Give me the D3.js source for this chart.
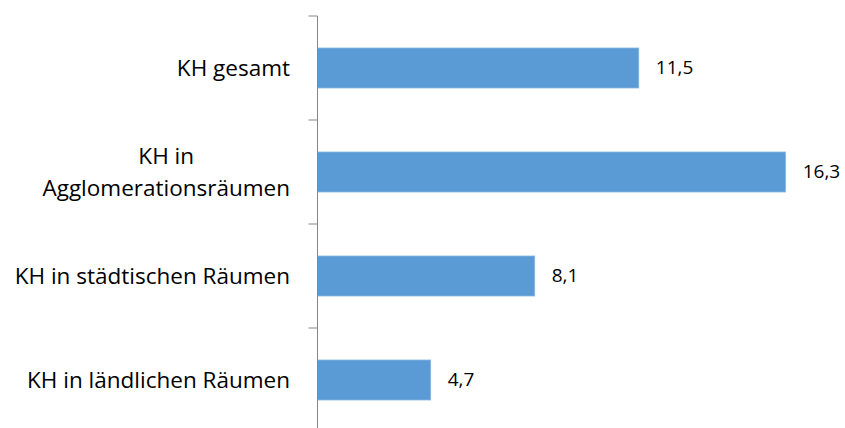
<!DOCTYPE html>
<html>
<head>
<meta charset="utf-8">
<script src="https://cdn.jsdelivr.net/npm/d3@7"></script>
<style>
  body { margin: 0; background: #fff; }
  text { font-family: "Open Sans", sans-serif; fill: #000; }
</style>
</head>
<body>
<div id="container"></div>
<script>
"use strict";
// categories (lines of each label) and values
const categories = ["KH gesamt", "KH in Agglomerationsräumen", "KH in städtischen Räumen", "KH in ländlichen Räumen"];
const labelLines = [["KH gesamt"], ["KH in", "Agglomerationsräumen"], ["KH in städtischen Räumen"], ["KH in ländlichen Räumen"]];
const values = [11.5, 16.3, 8.1, 4.7];

const width = 845, height = 428;
const axisX = 317.5;

const svg = d3.select("#container").append("svg")
    .attr("width", width)
    .attr("height", height);

const x = d3.scaleLinear()
    .domain([1, 18])
    .range([axisX, axisX + 17 * 30.6]);

const pad = 0.615;
const y = d3.scaleBand()
    .domain(categories)
    .range([16, 432])
    .paddingInner(pad)
    .paddingOuter(pad / 2);

const comma = d3.formatLocale({decimal: ",", thousands: ".", grouping: [3], currency: ["", "€"]}).format(".1f");

// bars
svg.append("g")
    .selectAll("rect")
    .data(values)
    .enter().append("rect")
        .attr("x", x(1))
        .attr("y", (d, i) => y(categories[i]))
        .attr("width", d => x(d) - x(1))
        .attr("height", y.bandwidth())
        .attr("fill", "#5B9BD5")
        .attr("stroke", "#8DB9E2")
        .attr("stroke-width", 0.75);

// axis line and ticks at category boundaries
const axis = svg.append("g").attr("class", "axis");
const bounds = d3.range(categories.length + 1).map(i => y.range()[0] + i * y.step());
axis.append("line")
    .attr("x1", axisX).attr("x2", axisX)
    .attr("y1", bounds[0]).attr("y2", bounds[bounds.length - 1])
    .attr("stroke", "#868686");
axis.selectAll(".tick")
    .data(bounds)
    .enter().append("line")
        .attr("class", "tick")
        .attr("x1", axisX - 9).attr("x2", axisX)
        .attr("y1", d => d).attr("y2", d => d)
        .attr("stroke", "#868686");

// category labels: block right-aligned, lines centred within block
const catFont = 22.5, lineH = 32;
const labels = svg.append("g").selectAll("g")
    .data(labelLines)
    .enter().append("g");

labels.each(function(lines, i) {
    const g = d3.select(this);
    const cy = y(categories[i]) + y.bandwidth() / 2;
    const texts = g.selectAll("text")
        .data(lines)
        .enter().append("text")
        .attr("font-size", catFont)
        .attr("text-anchor", "middle")
        .attr("dy", "0.34em")
        .attr("y", (d, j) => cy + (j - (lines.length - 1) / 2) * lineH)
        .text(d => d);
    const maxW = d3.max(texts.nodes(), n => n.getComputedTextLength());
    texts.attr("x", 290 - maxW / 2);
});

// value labels
svg.append("g")
    .selectAll("text")
    .data(values)
    .enter().append("text")
        .attr("x", d => x(d) + 17)
        .attr("y", (d, i) => y(categories[i]) + y.bandwidth() / 2)
        .attr("dy", "0.34em")
        .attr("font-size", 19)
        .text(d => comma(d));
</script>
</body>
</html>
